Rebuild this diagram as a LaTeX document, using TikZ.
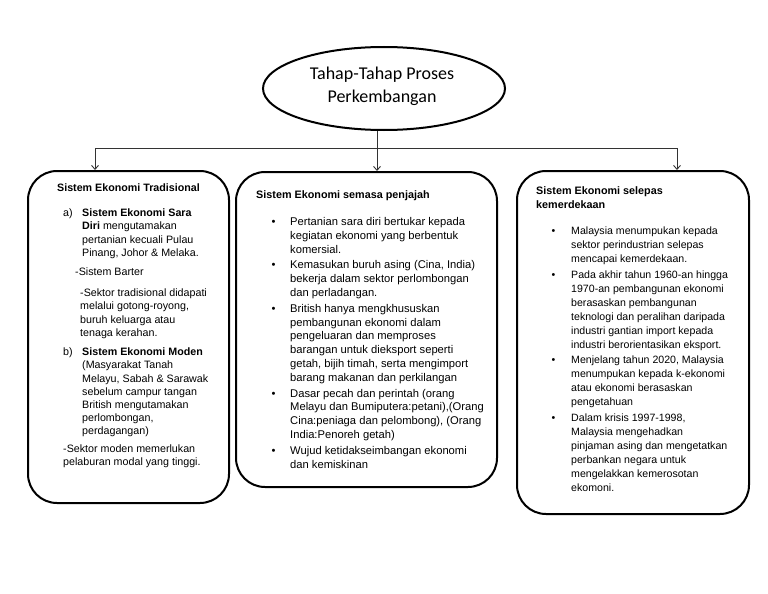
\documentclass[tikz,border=0pt]{standalone}
\usepackage{fontspec}
\setmainfont{Liberation Sans}
\newfontfamily\calibfont{Carlito}
\usetikzlibrary{shapes.geometric,arrows.meta}
\tikzset{
  box/.style={draw, line width=2pt, rounded corners=29pt, inner sep=0pt},
  conn/.style={line width=0.9pt, draw=black!80},
  tip/.style={-{Straight Barb[length=4pt,width=7pt]}},
  ta/.style={anchor=north west, inner sep=0pt, align=left, font=\fontsize{10.7}{13.2}\selectfont},
  tb/.style={anchor=north west, inner sep=0pt, align=left, font=\fontsize{11.2}{13.9}\selectfont},
  tc/.style={anchor=north west, inner sep=0pt, align=left, font=\fontsize{10.6}{14}\selectfont},
}
\begin{document}
\begin{tikzpicture}[x=1pt,y=-1pt]
\useasboundingbox (0,0) rectangle (768,594);
% title ellipse
\node[draw, ellipse, line width=2pt, minimum width=242pt, minimum height=83pt, inner sep=0pt] (title) at (384,88.5) {};
\node[font=\calibfont\fontsize{18}{22.5}\selectfont, align=center, inner sep=0pt] (titletext) at (382,86.5) {Tahap-Tahap Proses\\Perkembangan};
% boxes
\node[box, minimum width=201pt, minimum height=332pt] (b1) at (128.5,337) {};
\node[box, minimum width=261pt, minimum height=315pt] (b2) at (366.5,329.5) {};
\node[box, minimum width=232pt, minimum height=343pt] (b3) at (633,342.5) {};
% connectors
\coordinate (hl) at (95,148);
\coordinate (hm) at (377,148);
\coordinate (hr) at (677,148);
\draw[conn] (hl) -- (hr);
\draw[conn,tip] (hm |- title.south) -- (hm |- b2.north);
\draw[conn,tip] (hl) -- (hl |- b1.north);
\draw[conn,tip] (hr) -- (hr |- b3.north);
% box 1 text
\node[ta, anchor=north] (t1) at (128.5,182.3) {\strut\textbf{Sistem Ekonomi Tradisional}};
\node[ta] (a1) at (63,207.3) {\strut a)};
\node[ta] (a1t) at (82,207.3) {\strut\textbf{Sistem Ekonomi Sara}\\\textbf{Diri} mengutamakan\\pertanian kecuali Pulau\\Pinang, Johor \& Melaka.};
\node[ta] (barter) at (75,266.3) {\strut-Sistem Barter};
\node[ta] (sek1) at (80,287.3) {\strut-Sektor tradisional didapati\\melalui gotong-royong,\\buruh keluarga atau\\tenaga kerahan.};
\node[ta] (b1l) at (63,346.3) {\strut b)};
\node[ta] (b1t) at (82,346.3) {\strut\textbf{Sistem Ekonomi Moden}\\(Masyarakat Tanah\\Melayu, Sabah \& Sarawak\\sebelum campur tangan\\British mengutamakan\\perlombongan,\\perdagangan)};
\node[ta] (sek2) at (63,443.3) {\strut-Sektor moden memerlukan\\pelaburan modal yang tinggi.};
% box 2 text
\node[tb, font=\fontsize{10.8}{13.9}\selectfont] (t2) at (256,188.8) {\strut\textbf{Sistem Ekonomi semasa penjajah}};
\node[tb] (p1) at (271.5,215.8) {\strut•};
\node[tb] (p1t) at (290,215.8) {\strut Pertanian sara diri bertukar kepada\\kegiatan ekonomi yang berbentuk\\komersial.};
\node[tb] (p2) at (271.5,259) {\strut•};
\node[tb] (p2t) at (290,259) {\strut Kemasukan buruh asing (Cina, India)\\bekerja dalam sektor perlombongan\\dan perladangan.};
\node[tb] (p3) at (271.5,302.2) {\strut•};
\node[tb] (p3t) at (290,302.2) {\strut British hanya mengkhususkan\\pembangunan ekonomi dalam\\pengeluaran dan memproses\\barangan untuk dieksport seperti\\getah, bijih timah, serta mengimport\\barang makanan dan perkilangan};
\node[tb] (p4) at (271.5,387.1) {\strut•};
\node[tb] (p4t) at (290,387.1) {\strut Dasar pecah dan perintah (orang\\Melayu dan Bumiputera:petani),(Orang\\Cina:peniaga dan pelombong), (Orang\\India:Penoreh getah)};
\node[tb] (p5) at (271.5,444.2) {\strut•};
\node[tb] (p5t) at (290,444.2) {\strut Wujud ketidakseimbangan ekonomi\\dan kemiskinan};
% box 3 text
\node[tc, font=\fontsize{10.8}{14}\selectfont] (t3) at (536,184.7) {\strut\textbf{Sistem Ekonomi selepas}\\\textbf{kemerdekaan}};
\node[tc] (q1) at (551.5,224.7) {\strut•};
\node[tc] (q1t) at (571,224.7) {\strut Malaysia menumpukan kepada\\sektor perindustrian selepas\\mencapai kemerdekaan.};
\node[tc] (q2) at (551.5,268.2) {\strut•};
\node[tc] (q2t) at (571,268.2) {\strut Pada akhir tahun 1960-an hingga\\1970-an pembangunan ekonomi\\berasaskan pembangunan\\teknologi dan peralihan daripada\\industri gantian import kepada\\industri berorientasikan eksport.};
\node[tc] (q3) at (551.5,353.7) {\strut•};
\node[tc] (q3t) at (571,353.7) {\strut Menjelang tahun 2020, Malaysia\\menumpukan kepada k-ekonomi\\atau ekonomi berasaskan\\pengetahuan};
\node[tc] (q4) at (551.5,411.2) {\strut•};
\node[tc] (q4t) at (571,411.2) {\strut Dalam krisis 1997-1998,\\Malaysia mengehadkan\\pinjaman asing dan mengetatkan\\perbankan negara untuk\\mengelakkan kemerosotan\\ekomoni.};
\end{tikzpicture}
\end{document}
